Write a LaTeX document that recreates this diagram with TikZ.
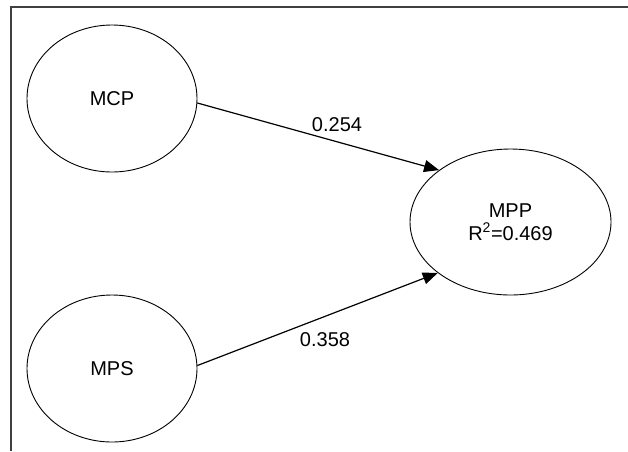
\documentclass[tikz,border=0pt]{standalone}
\usepackage{fontspec}
\setmainfont{Liberation Sans}
\usetikzlibrary{shapes.geometric,arrows.meta}
\begin{document}
\begin{tikzpicture}[x=1pt,y=-1pt,
  latent/.style={ellipse,draw=black,line width=0.9pt,inner sep=0pt,
    font=\fontsize{20}{24}\selectfont,align=center},
  path/.style={draw=black,line width=1.2pt,-{Triangle[length=15pt,width=12pt]}},
  coef/.style={font=\fontsize{20}{24}\selectfont,inner sep=0pt},
  frame/.style={draw=black!75,line width=1.2pt}]
\useasboundingbox (0,0) rectangle (628,451);
\coordinate (fTL) at (11,7);
\coordinate (fTR) at (628,7);
\coordinate (fBL) at (11,451);
\draw[frame] (fBL) -- (fTL) -- (fTR);
\node[latent,minimum width=170pt,minimum height=147pt] (MCP) at (112,98.5) {MCP};
\node[latent,minimum width=170pt,minimum height=147pt] (MPS) at (112,368.5) {MPS};
\node[latent,minimum width=201pt,minimum height=146pt] (MPP) at (510.5,222) {MPP\\[-1pt]R\textsuperscript{2}=0.469};
\draw[path] (MCP.-3) -- (MPP.144);
\draw[path] (MPS.2.4) -- (MPP.215);
\node[coef] (c1) at (337,125) {0.254};
\node[coef] (c2) at (325,340) {0.358};
\end{tikzpicture}
\end{document}
